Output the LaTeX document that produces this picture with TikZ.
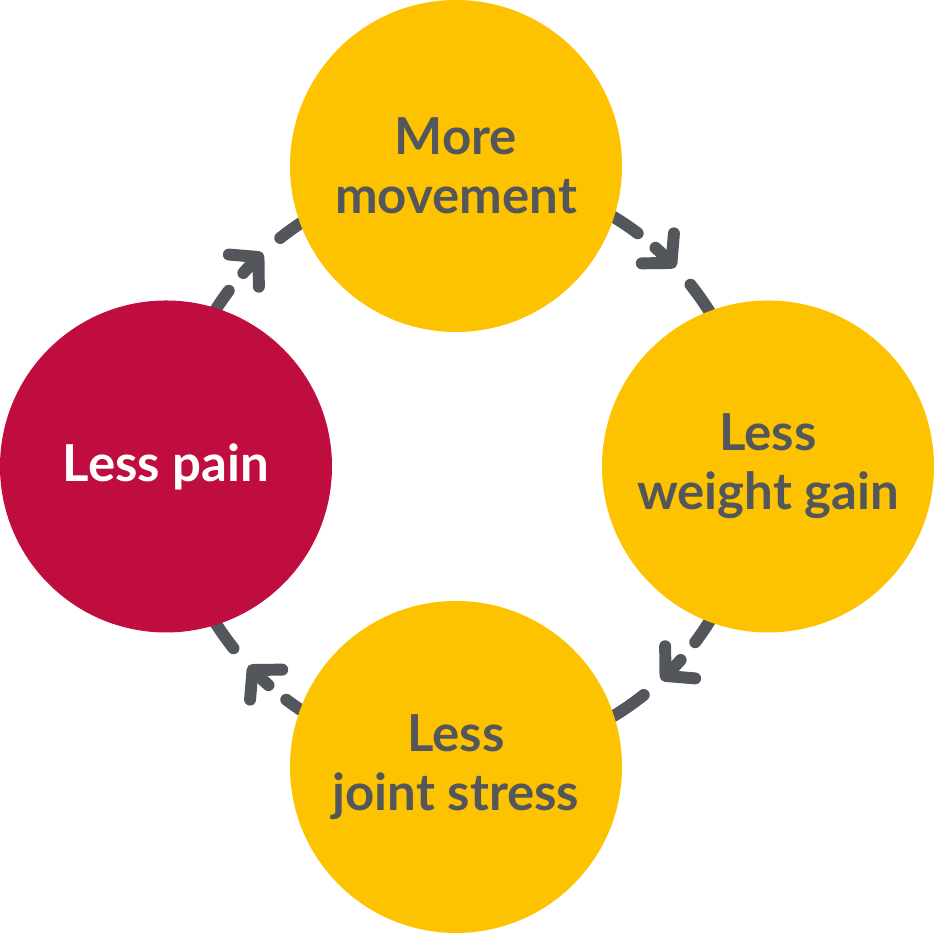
\documentclass[tikz,border=0pt]{standalone}
\usepackage{fontspec}
\setmainfont{Lato}
\usetikzlibrary{arrows.meta,backgrounds}

\definecolor{sunyellow}{HTML}{FDC300}
\definecolor{painred}{HTML}{BE0D3E}
\definecolor{slategrey}{HTML}{53565A}

\tikzset{
  stage disc/.style={circle, minimum size=3.32cm, inner sep=0pt, fill=sunyellow,
    text=slategrey, align=center, font=\bfseries\fontsize{14.5}{16.8}\selectfont},
  pain disc/.style={stage disc, fill=painred, text=white},
  loop line/.style={slategrey, line width=3.4pt, line cap=round},
  loop tip/.style={loop line, -{Straight Barb[length=0.2cm, width=0.44cm, round]}},
}

\begin{document}
\begin{tikzpicture}
\useasboundingbox (0,0) rectangle (9.34,9.33);

\def\rloop{2.92}
\coordinate (hub) at (4.62,4.665);

%--- the four stages ---
\node[stage disc] (move)   at (4.56,7.67) {More\\movement};
\node[stage disc] (weight) at (7.68,4.665) {Less\\weight gain};
\node[stage disc] (stress) at (4.56,1.66) {Less\\joint stress};
\node[pain disc]  (pain)   at (1.66,4.665) {Less pain};

%--- dashed arcs with arrows, running clockwise ---
\begin{scope}[on background layer]
\foreach \mid in {135,45,-45,-135}{
  \pgfmathsetmacro{\aa}{\mid+20}
  \pgfmathsetmacro{\ab}{\mid+8}
  \pgfmathsetmacro{\ac}{\mid+3.5}
  \pgfmathsetmacro{\ad}{\mid-2}
  \pgfmathsetmacro{\ae}{\mid-6.5}
  \pgfmathsetmacro{\af}{\mid-20}
  \draw[loop line] ([shift={(\aa:\rloop)}]hub)
    arc[start angle=\aa, end angle=\ab, radius=\rloop];
  \draw[loop tip] ([shift={(\ac:\rloop)}]hub)
    arc[start angle=\ac, end angle=\ad, radius=\rloop];
  \draw[loop line] ([shift={(\ae:\rloop)}]hub)
    arc[start angle=\ae, end angle=\af, radius=\rloop];
}
\end{scope}

\end{tikzpicture}
\end{document}
